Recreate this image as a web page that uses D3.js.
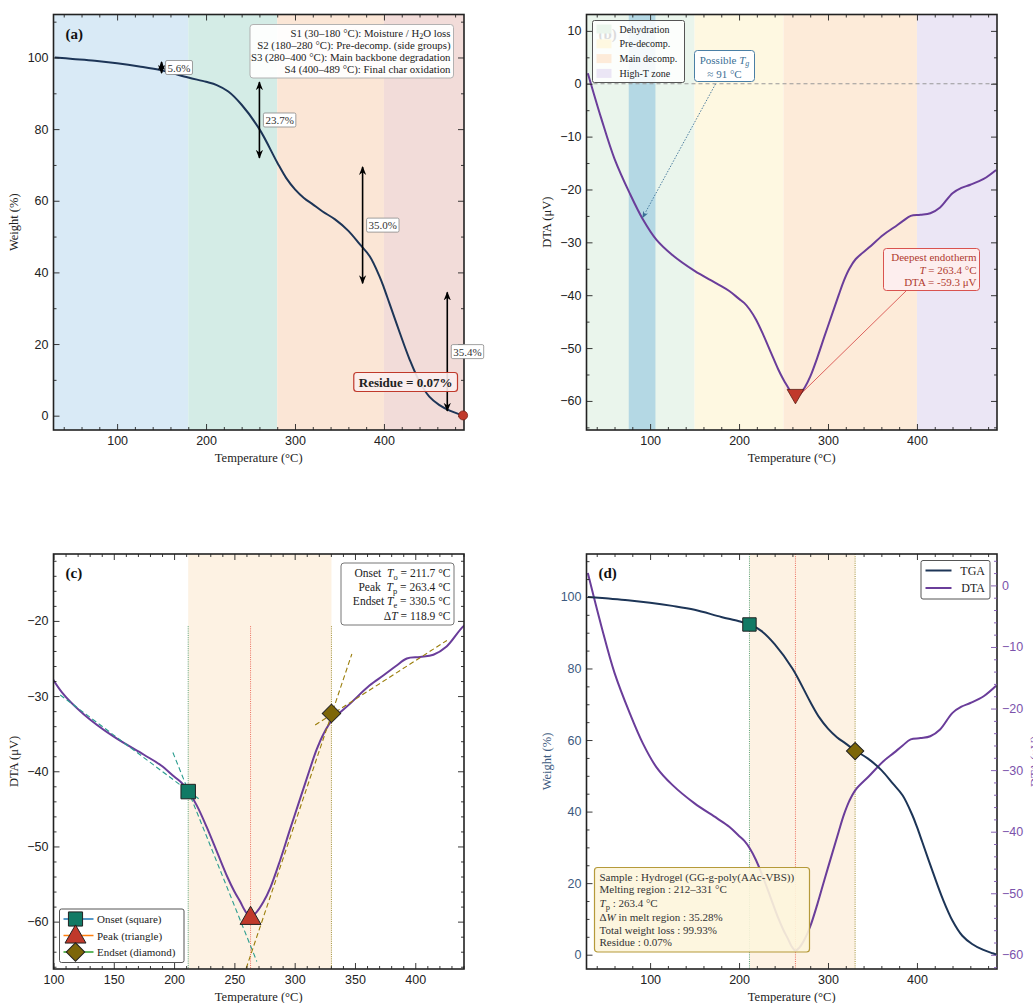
<!DOCTYPE html>
<html>
<head>
<meta charset="utf-8">
<script src="https://cdn.jsdelivr.net/npm/d3@7"></script>
<style>
  body { margin: 0; background: #fff; }
  svg { font-family: "Liberation Serif", "DejaVu Serif", serif; }
  .tick text { font-size: 12.5px; }
</style>
</head>
<body>
<div id="chart"></div>
<script>
// ---- data ----
var tgaTemp   = [30, 50, 75, 100, 125, 150, 180, 200, 212, 225, 240, 260, 280, 290, 300, 310, 320, 331, 345, 360, 373, 384, 395, 400, 406, 418, 429, 440, 451, 462, 474, 485, 489];
var tgaWeight = [100, 99.6, 99.1, 98.4, 97.5, 96.4, 94.4, 93.2, 92.3, 90.5, 86.8, 80.0, 70.7, 66.4, 63.2, 60.8, 59.0, 57.0, 54.8, 51.6, 47.8, 44.5, 38.9, 35.7, 31.5, 23.0, 15.6, 9.5, 5.3, 3.0, 1.4, 0.4, 0.07];

var dtaTemp   = [30, 45, 60, 77, 92, 107, 125, 150, 175, 189, 200, 206, 212, 219, 227, 236, 244, 250, 255, 259, 263.4, 268, 274, 280, 288, 296, 305, 312, 318, 324, 331, 346, 362, 374, 384, 393, 404, 415, 426, 440, 450, 460, 475, 489];
var dtaSignal = [2, -6.5, -14.2, -20.7, -25.7, -29.5, -32.4, -35.4, -37.8, -39.2, -40.7, -41.5, -42.7, -44.6, -47.4, -50.9, -54.0, -56.0, -57.4, -58.6, -59.3, -58.8, -57.4, -55.4, -51.8, -47.8, -43.4, -40.0, -37.2, -35.0, -33.2, -31.0, -28.6, -27.2, -26.0, -25.0, -24.8, -24.5, -23.4, -20.7, -19.7, -19.1, -18.0, -16.3];

var stageStart = [30, 180, 280, 400];
var stageEnd   = [180, 280, 400, 489];
var stageLoss  = ["5.6%", "23.7%", "35.0%", "35.4%"];
var stageText  = ["S1 (30\u2013180 \u00b0C): Moisture / H\u2082O loss",
                  "S2 (180\u2013280 \u00b0C): Pre-decomp. (side groups)",
                  "S3 (280\u2013400 \u00b0C): Main backbone degradation",
                  "S4 (400\u2013489 \u00b0C): Final char oxidation"];
var stageColors = ["#d9eaf6", "#d4ece6", "#fbe6d6", "#f2dcd9"];

var zoneNames  = ["Dehydration", "Pre-decomp.", "Main decomp.", "High-T zone"];
var zoneStart  = [30, 150, 250, 400];
var zoneEnd    = [150, 250, 400, 490];
var zoneColors = ["#eaf5ec", "#fef8e1", "#fdebd9", "#ebe6f5"];
var tgBand = [76, 106];
var tgValue = 91;

var onsetT = 211.7, peakT = 263.4, endsetT = 330.5;
var onsetDTA = -42.7, peakDTA = -59.3, endsetDTA = -32.3;
var onsetW = 92.3, endsetW = 56.9;
// tangent segments [T1, DTA1, T2, DTA2]
var onsetTangents  = [[105.6, -29.85, 221.6, -43.8], [199, -37.5, 268.6, -65.3]];
var endsetTangents = [[259.8, -66.2, 347.4, -24.4], [317, -33.85, 426.2, -22.6]];

var infoLines = ["Sample : Hydrogel (GG-g-poly(AAc-VBS))", "Melting region : 212\u2013331 \u00b0C", "Tp", "\u0394W", "Total weight loss : 99.93%", "Residue : 0.07%"];

var tgaColor = "#1d3557", dtaColor = "#6a3d9a";
var bandColor = "#fdf2e3";

var tga = tgaTemp.map(function(t, i) { return {t: t, v: tgaWeight[i]}; });
var dta = dtaTemp.map(function(t, i) { return {t: t, v: dtaSignal[i]}; });

var svg = d3.select("#chart").append("svg").attr("width", 1033).attr("height", 1003);
var defs = svg.append("defs");

function arrowMarker(id, color, size) {
  defs.append("marker").attr("id", id)
    .attr("viewBox", "0 0 10 10").attr("refX", 9).attr("refY", 5)
    .attr("markerWidth", size).attr("markerHeight", size)
    .attr("markerUnits", "userSpaceOnUse")
    .attr("orient", "auto-start-reverse")
    .append("path").attr("d", "M0,1 L10,5 L0,9 L3,5 Z").attr("fill", color);
}
arrowMarker("arrowK", "#000", 9);
arrowMarker("arrowB", "#3a6f96", 7);

function range(a, b, s) { var r = []; for (var v = a; v <= b + 1e-9; v += s) r.push(+v.toFixed(6)); return r; }

// build one panel: frame, inward ticks on all four sides
function panel(o) {
  var g = svg.append("g").attr("transform", "translate(" + o.left + "," + o.top + ")");
  var x = d3.scaleLinear().domain(o.xd).range([0, o.w]);
  var y = d3.scaleLinear().domain(o.yd).range([o.h, 0]);
  defs.append("clipPath").attr("id", "clip" + o.id).append("rect").attr("width", o.w).attr("height", o.h);
  var bg = g.append("g").attr("clip-path", "url(#clip" + o.id + ")");
  var plot = g.append("g").attr("clip-path", "url(#clip" + o.id + ")");
  var axes = g.append("g");
  return {g: g, x: x, y: y, bg: bg, plot: plot, axes: axes, o: o};
}

function finishAxes(p, ox, oy, yColor, yLabel, yLabelColor, right) {
  var o = p.o, a = p.axes, x = p.x, y = p.y;
  var xMinor = ox.minor.filter(function(v) { return ox.major.indexOf(v) < 0; });
  var yMinor = oy.minor.filter(function(v) { return oy.major.indexOf(v) < 0; });
  a.append("g").attr("transform", "translate(0," + o.h + ")")
    .call(d3.axisBottom(x).tickValues(ox.major).tickSize(-6).tickPadding(6).tickFormat(d3.format("d")));
  a.append("g").attr("transform", "translate(0," + o.h + ")")
    .call(d3.axisBottom(x).tickValues(xMinor).tickSize(-3).tickFormat(""));
  a.append("g").call(d3.axisTop(x).tickValues(ox.major).tickSize(-6).tickFormat(""));
  a.append("g").call(d3.axisTop(x).tickValues(xMinor).tickSize(-3).tickFormat(""));
  a.append("g").call(d3.axisLeft(y).tickValues(oy.major).tickSize(-6).tickPadding(5).tickFormat(function(d) { return d < 0 ? "\u2212" + (-d) : d; }))
    .call(function(s) { s.selectAll("text").attr("fill", yColor); });
  a.append("g").call(d3.axisLeft(y).tickValues(yMinor).tickSize(-3).tickFormat(""));
  if (!right) {
    a.append("g").attr("transform", "translate(" + o.w + ",0)").call(d3.axisRight(y).tickValues(oy.major).tickSize(-6).tickFormat(""));
    a.append("g").attr("transform", "translate(" + o.w + ",0)").call(d3.axisRight(y).tickValues(yMinor).tickSize(-3).tickFormat(""));
  }
  a.selectAll(".domain").remove();
  a.selectAll(".tick line").attr("stroke", "#222").attr("stroke-width", 0.9);
  a.selectAll(".tick text").attr("fill", function() { return d3.select(this).attr("fill") === "currentColor" ? "#222" : d3.select(this).attr("fill"); });
  a.append("rect").attr("width", o.w).attr("height", o.h).attr("fill", "none").attr("stroke", "#222").attr("stroke-width", 1.6);
  a.append("text").attr("x", o.w / 2).attr("y", o.h + 32).attr("text-anchor", "middle")
    .attr("font-size", 12.5).attr("fill", "#222").text("Temperature (\u00b0C)");
  a.append("text").attr("transform", "translate(" + (-36) + "," + (o.h / 2) + ") rotate(-90)")
    .attr("text-anchor", "middle").attr("font-size", 12.5).attr("fill", yLabelColor).text(yLabel);
}

function panelLabel(p, s) {
  p.axes.append("text").attr("x", 12).attr("y", 24).attr("font-size", 15).attr("font-weight", "bold").attr("fill", "#111").text(s);
}

var lineGen = function(x, y) {
  return d3.line().x(function(d) { return x(d.t); }).y(function(d) { return y(d.v); }).curve(d3.curveCatmullRom.alpha(0.5));
};

// =============== (a) TGA with stages ===============
var pa = panel({id: "a", left: 53.5, top: 14.5, w: 410.5, h: 415.5, xd: [28.5, 490], yd: [-4, 112]});
stageStart.forEach(function(s, i) {
  var x0 = i === 0 ? 28.5 : s, x1 = i === 3 ? 490 : stageEnd[i];
  pa.bg.append("rect").attr("x", pa.x(x0)).attr("width", pa.x(x1) - pa.x(x0))
    .attr("y", 0).attr("height", 415.5).attr("fill", stageColors[i]);
});
pa.plot.append("path").datum(tga).attr("d", lineGen(pa.x, pa.y)).attr("fill", "none")
  .attr("stroke", tgaColor).attr("stroke-width", 2);

function weightAt(t) {
  var i = d3.bisectLeft(tgaTemp, t);
  if (tgaTemp[i] === t) return tgaWeight[i];
  var f = (t - tgaTemp[i - 1]) / (tgaTemp[i] - tgaTemp[i - 1]);
  return tgaWeight[i - 1] + f * (tgaWeight[i] - tgaWeight[i - 1]);
}
stageStart.forEach(function(s, i) {
  var e = stageEnd[i];
  var xa = s + 0.8 * (e - s);
  var w0 = weightAt(s), w1 = weightAt(e);
  var shrink = 4.5;
  pa.g.append("line").attr("x1", pa.x(xa)).attr("x2", pa.x(xa))
    .attr("y1", pa.y(w0) + shrink).attr("y2", pa.y(w1) - shrink)
    .attr("stroke", "#000").attr("stroke-width", 1.6)
    .attr("marker-start", "url(#arrowK)").attr("marker-end", "url(#arrowK)");
  var lbl = pa.g.append("g").attr("transform", "translate(" + (pa.x(xa) + 3) + "," + pa.y((w0 + w1) / 2) + ")");
  var t = lbl.append("text").attr("x", 3).attr("y", 4).attr("font-size", 11).attr("fill", "#333").text(stageLoss[i]);
  var bb = t.node().getBBox();
  lbl.insert("rect", "text").attr("x", bb.x - 2).attr("y", bb.y - 1).attr("width", bb.width + 4).attr("height", bb.height + 2)
    .attr("rx", 1.5).attr("fill", "#fff").attr("stroke", "#888").attr("stroke-width", 0.8);
});
// residue
pa.g.append("circle").attr("cx", pa.x(489)).attr("cy", pa.y(0.07)).attr("r", 4.5).attr("fill", "#c0392b").attr("stroke", "#7a1f15").attr("stroke-width", 0.8);
(function() {
  var t = pa.g.append("text").attr("x", 399).attr("y", 372).attr("text-anchor", "end")
    .attr("font-size", 13).attr("font-weight", "bold").attr("fill", "#222").text("Residue = 0.07%");
  var bb = t.node().getBBox();
  pa.g.insert("rect", function() { return t.node(); }).attr("x", bb.x - 5).attr("y", bb.y - 2).attr("width", bb.width + 10).attr("height", bb.height + 4)
    .attr("rx", 3).attr("fill", "#fbeeee").attr("fill-opacity", 0.9).attr("stroke", "#c0392b").attr("stroke-width", 1.2);
})();
// stage description box
(function() {
  var box = pa.g.append("g");
  var rect = box.append("rect");
  stageText.forEach(function(s, i) {
    var t = box.append("text").attr("x", 397).attr("y", 22 + i * 12.3).attr("text-anchor", "end")
      .attr("font-size", 10.8).attr("fill", "#222");
    if (i === 0) {
      t.append("tspan").text("S1 (30\u2013180 \u00b0C): Moisture / H");
      t.append("tspan").attr("font-size", 8).attr("dy", 2).text("2");
      t.append("tspan").attr("dy", -2).text("O loss");
    } else t.text(s);
  });
  rect.attr("x", 196.5).attr("y", 10).attr("width", 203.5).attr("height", 53.5).attr("rx", 3)
    .attr("fill", "#fff").attr("fill-opacity", 0.92).attr("stroke", "#aaa").attr("stroke-width", 0.9);
})();
panelLabel(pa, "(a)");
finishAxes(pa, {major: [100, 200, 300, 400], minor: range(40, 480, 20)},
  {major: [0, 20, 40, 60, 80, 100], minor: range(0, 110, 10)}, "#222", "Weight (%)", "#222");

// =============== (b) DTA zones ===============
var pb = panel({id: "b", left: 586.5, top: 14.5, w: 410.5, h: 415.5, xd: [28.5, 490], yd: [-65.5, 13.1]});
zoneStart.forEach(function(s, i) {
  var x0 = i === 0 ? 28.5 : s;
  pb.bg.append("rect").attr("x", pb.x(x0)).attr("width", pb.x(zoneEnd[i]) - pb.x(x0))
    .attr("y", 0).attr("height", 415.5).attr("fill", zoneColors[i]);
});
pb.bg.append("rect").attr("x", pb.x(tgBand[0])).attr("width", pb.x(tgBand[1]) - pb.x(tgBand[0]))
  .attr("y", 0).attr("height", 415.5).attr("fill", "#b4d8e4");
pb.bg.append("line").attr("x1", 0).attr("x2", 410.5).attr("y1", pb.y(0)).attr("y2", pb.y(0))
  .attr("stroke", "#999").attr("stroke-width", 1).attr("stroke-dasharray", "4,3");
pb.plot.append("path").datum(dta).attr("d", lineGen(pb.x, pb.y)).attr("fill", "none")
  .attr("stroke", dtaColor).attr("stroke-width", 2);
panelLabel(pb, "(b)");
// legend
(function() {
  var lg = pb.g.append("g").attr("transform", "translate(6,6)");
  lg.append("rect").attr("width", 92).attr("height", 62).attr("rx", 2).attr("fill", "#fff").attr("fill-opacity", 0.85)
    .attr("stroke", "#555").attr("stroke-width", 1);
  zoneNames.forEach(function(n, i) {
    lg.append("rect").attr("x", 4).attr("y", 4 + i * 14.8).attr("width", 15).attr("height", 9).attr("fill", zoneColors[i]);
    lg.append("text").attr("x", 27).attr("y", 12 + i * 14.8).attr("font-size", 10).attr("fill", "#222").text(n);
  });
})();
// Tg annotation
(function() {
  var bx = 108, by = 36;
  var tx = pb.x(tgValue - 0.5), ty = pb.y(-25.7);
  pb.g.append("line").attr("x1", 129).attr("y1", 69.5).attr("x2", tx + 1).attr("y2", ty - 2)
    .attr("stroke", "#3a6f96").attr("stroke-width", 0.9).attr("stroke-dasharray", "1.5,1.5")
    .attr("marker-end", "url(#arrowB)");
  pb.g.append("rect").attr("x", bx).attr("y", by).attr("width", 60).attr("height", 31).attr("rx", 3)
    .attr("fill", "#fff").attr("stroke", "#4a7fa5").attr("stroke-width", 1);
  var t1 = pb.g.append("text").attr("x", bx + 30).attr("y", by + 13).attr("text-anchor", "middle").attr("font-size", 11).attr("fill", "#3a6f96");
  t1.append("tspan").text("Possible ");
  t1.append("tspan").attr("font-style", "italic").text("T");
  t1.append("tspan").attr("font-style", "italic").attr("font-size", 8).attr("dy", 2.5).text("g");
  pb.g.append("text").attr("x", bx + 30).attr("y", by + 27).attr("text-anchor", "middle").attr("font-size", 11).attr("fill", "#3a6f96").text("\u2248 91 \u00b0C");
})();
// deepest endotherm
(function() {
  var mx = pb.x(peakT), my = pb.y(peakDTA);
  pb.g.append("line").attr("x1", mx + 5).attr("y1", my - 3).attr("x2", 320).attr("y2", 276)
    .attr("stroke", "#d9534f").attr("stroke-width", 0.9);
  pb.g.append("path").attr("d", d3.symbol().type(d3.symbolTriangle).size(120)).attr("transform", "translate(" + mx + "," + (my - 3) + ") rotate(180)")
    .attr("fill", "#c0392b").attr("stroke", "#5a1a12").attr("stroke-width", 0.8);
  pb.g.append("rect").attr("x", 297).attr("y", 234).attr("width", 96).attr("height", 42).attr("rx", 3)
    .attr("fill", "#fdeeee").attr("stroke", "#d9534f").attr("stroke-width", 1);
  pb.g.append("text").attr("x", 390).attr("y", 246.5).attr("text-anchor", "end").attr("font-size", 11).attr("fill", "#b03a2e").text("Deepest endotherm");
  var t2 = pb.g.append("text").attr("x", 390).attr("y", 259).attr("text-anchor", "end").attr("font-size", 11).attr("fill", "#b03a2e");
  t2.append("tspan").attr("font-style", "italic").text("T");
  t2.append("tspan").text(" = 263.4 \u00b0C");
  pb.g.append("text").attr("x", 390).attr("y", 271.5).attr("text-anchor", "end").attr("font-size", 11).attr("fill", "#b03a2e").text("DTA = -59.3 \u03bcV");
})();
finishAxes(pb, {major: [100, 200, 300, 400], minor: range(40, 480, 20)},
  {major: range(-60, 10, 10), minor: range(-65, 10, 5)}, "#222", "DTA (\u03bcV)", "#222");

// =============== (c) onset / peak / endset ===============
var pc = panel({id: "c", left: 53.5, top: 554, w: 410.5, h: 415, xd: [100, 440.4], yd: [-66.3, -11.1]});
pc.bg.append("rect").attr("x", pc.x(onsetT)).attr("width", pc.x(endsetT) - pc.x(onsetT))
  .attr("y", 0).attr("height", 415).attr("fill", bandColor);
[[onsetT, "#2e8b57"], [peakT, "#e74c3c"], [endsetT, "#8a7a10"]].forEach(function(v) {
  pc.bg.append("line").attr("x1", pc.x(v[0])).attr("x2", pc.x(v[0])).attr("y1", pc.y(-20.7)).attr("y2", 415)
    .attr("stroke", v[1]).attr("stroke-width", 0.8).attr("stroke-dasharray", "1,1.2");
});
pc.plot.append("path").datum(dta).attr("d", lineGen(pc.x, pc.y)).attr("fill", "none")
  .attr("stroke", dtaColor).attr("stroke-width", 2);
function tangents(list, color) {
  list.forEach(function(s) {
    pc.plot.append("line").attr("x1", pc.x(s[0])).attr("y1", pc.y(s[1])).attr("x2", pc.x(s[2])).attr("y2", pc.y(s[3]))
      .attr("stroke", color).attr("stroke-width", 1.1).attr("stroke-dasharray", "5,3");
  });
}
tangents(onsetTangents, "#2a9d8f");
tangents(endsetTangents, "#9a7d0a");

function markerShape(g, type, cx, cy, size, fill, rot) {
  g.append("path").attr("d", d3.symbol().type(type).size(size))
    .attr("transform", "translate(" + cx + "," + cy + ")" + (rot ? " rotate(" + rot + ")" : ""))
    .attr("fill", fill).attr("stroke", "#222").attr("stroke-width", 1);
}
markerShape(pc.g, d3.symbolSquare, pc.x(onsetT), pc.y(onsetDTA), 210, "#117a65");
markerShape(pc.g, d3.symbolTriangle, pc.x(peakT), pc.y(peakDTA) + 2, 190, "#c0392b");
markerShape(pc.g, d3.symbolSquare, pc.x(endsetT), pc.y(endsetDTA), 170, "#7d6608", 45);
panelLabel(pc, "(c)");
// stats box
(function() {
  var bx = 287.5, by = 9;
  pc.g.append("rect").attr("x", bx).attr("y", by).attr("width", 113).attr("height", 62).attr("rx", 3)
    .attr("fill", "#fff").attr("stroke", "#777").attr("stroke-width", 1);
  var rows = [["Onset  ", "T", "o", " = 211.7 \u00b0C"], ["Peak  ", "T", "p", " = 263.4 \u00b0C"],
              ["Endset ", "T", "e", " = 330.5 \u00b0C"], ["\u0394", "T", "", " = 118.9 \u00b0C"]];
  rows.forEach(function(r, i) {
    var t = pc.g.append("text").attr("x", 397).attr("y", by + 14 + i * 14.2).attr("text-anchor", "end")
      .attr("font-size", 11.5).attr("fill", "#222").attr("xml:space", "preserve");
    t.append("tspan").text(r[0]);
    t.append("tspan").attr("font-style", "italic").text(r[1]);
    if (r[2]) {
      t.append("tspan").attr("font-size", 8.5).attr("dy", 3).text(r[2]);
      t.append("tspan").attr("dy", -3).text(r[3]);
    } else t.append("tspan").text(r[3]);
  });
})();
// legend
(function() {
  var lg = pc.g.append("g").attr("transform", "translate(6,355)");
  lg.append("rect").attr("width", 124.5).attr("height", 53.5).attr("rx", 2).attr("fill", "#fff").attr("fill-opacity", 0.85)
    .attr("stroke", "#555").attr("stroke-width", 1);
  var items = [["Onset (square)", "#1f77b4", d3.symbolSquare, "#117a65", 0, 200],
               ["Peak (triangle)", "#ff7f0e", d3.symbolTriangle, "#c0392b", 0, 190],
               ["Endset (diamond)", "#2ca02c", d3.symbolSquare, "#7d6608", 45, 170]];
  items.forEach(function(it, i) {
    var yy = 10 + i * 16.5;
    lg.append("line").attr("x1", 4).attr("x2", 34).attr("y1", yy).attr("y2", yy).attr("stroke", it[1]).attr("stroke-width", 1.5);
    markerShape(lg, it[2], 16, yy + (i === 1 ? 1.5 : 0), it[5], it[3], it[4]);
    lg.append("text").attr("x", 37.5).attr("y", yy + 4).attr("font-size", 11).attr("fill", "#222").text(it[0]);
  });
})();
finishAxes(pc, {major: range(100, 400, 50), minor: range(100, 440, 10)},
  {major: range(-60, -20, 10), minor: range(-66, -12, 2)}, "#222", "DTA (\u03bcV)", "#222");

// =============== (d) overlay ===============
var pd = panel({id: "d", left: 586.5, top: 554, w: 410.5, h: 415, xd: [28.5, 490], yd: [-4, 112]});
var yR = d3.scaleLinear().domain([-62.3, 5.1]).range([415, 0]);
pd.bg.append("rect").attr("x", pd.x(onsetT)).attr("width", pd.x(endsetT) - pd.x(onsetT))
  .attr("y", 0).attr("height", 415).attr("fill", bandColor);
[[onsetT, "#2e8b57"], [peakT, "#e74c3c"], [endsetT, "#8a7a10"]].forEach(function(v) {
  pd.bg.append("line").attr("x1", pd.x(v[0])).attr("x2", pd.x(v[0])).attr("y1", 0).attr("y2", 415)
    .attr("stroke", v[1]).attr("stroke-width", 0.8).attr("stroke-dasharray", "1,1.2");
});
pd.plot.append("path").datum(dta).attr("d", lineGen(pd.x, yR)).attr("fill", "none")
  .attr("stroke", dtaColor).attr("stroke-width", 2);
pd.plot.append("path").datum(tga).attr("d", lineGen(pd.x, pd.y)).attr("fill", "none")
  .attr("stroke", tgaColor).attr("stroke-width", 2);
markerShape(pd.g, d3.symbolSquare, pd.x(onsetT), pd.y(onsetW), 180, "#117a65");
markerShape(pd.g, d3.symbolSquare, pd.x(endsetT), pd.y(endsetW), 150, "#7d6608", 45);
panelLabel(pd, "(d)");
// info box
(function() {
  var bx = 8, by = 313.5;
  pd.g.append("rect").attr("x", bx).attr("y", by).attr("width", 215).attr("height", 84.5).attr("rx", 3)
    .attr("fill", "#fdf5dc").attr("fill-opacity", 0.9).attr("stroke", "#b59a3a").attr("stroke-width", 1.2);
  var lh = [0, 12.3, 25.5, 39.5, 52.5, 65];
  infoLines.forEach(function(s, i) {
    var t = pd.g.append("text").attr("x", bx + 5).attr("y", by + 13.5 + lh[i]).attr("font-size", 11).attr("fill", "#333");
    if (s === "Tp") {
      t.append("tspan").attr("font-style", "italic").text("T");
      t.append("tspan").attr("font-size", 8.5).attr("dy", 3).text("p");
      t.append("tspan").attr("dy", -3).text(" : 263.4 \u00b0C");
    } else if (s === "\u0394W") {
      t.append("tspan").text("\u0394");
      t.append("tspan").attr("font-style", "italic").text("W");
      t.append("tspan").text(" in melt region : 35.28%");
    } else t.text(s);
  });
})();
// legend
(function() {
  var lg = pd.g.append("g").attr("transform", "translate(334.5,6.5)");
  lg.append("rect").attr("width", 69).attr("height", 38.5).attr("rx", 2).attr("fill", "#fff").attr("fill-opacity", 0.85)
    .attr("stroke", "#555").attr("stroke-width", 1);
  [["TGA", tgaColor], ["DTA", dtaColor]].forEach(function(it, i) {
    var yy = 10 + i * 17.5;
    lg.append("line").attr("x1", 4.5).attr("x2", 30.5).attr("y1", yy).attr("y2", yy).attr("stroke", it[1]).attr("stroke-width", 2);
    lg.append("text").attr("x", 64).attr("y", yy + 4).attr("text-anchor", "end").attr("font-size", 12).attr("fill", "#222").text(it[0]);
  });
})();
finishAxes(pd, {major: [100, 200, 300, 400], minor: range(40, 480, 20)},
  {major: range(0, 100, 20), minor: range(0, 110, 5)}, "#3d5a80", "Weight (%)", "#3d5a80", true);
(function() {
  var a = pd.axes.append("g").attr("transform", "translate(410.5,0)");
  a.call(d3.axisRight(yR).tickValues(range(-60, 0, 10)).tickSize(-6).tickPadding(5)
    .tickFormat(function(d) { return d < 0 ? "\u2212" + (-d) : d; }));
  var b = pd.axes.append("g").attr("transform", "translate(410.5,0)");
  b.call(d3.axisRight(yR).tickValues(range(-62, 4, 2).filter(function(v) { return v % 10 !== 0; })).tickSize(-3).tickFormat(""));
  [a, b].forEach(function(s) {
    s.select(".domain").remove();
    s.selectAll(".tick line").attr("stroke", "#7b52ab").attr("stroke-width", 0.9);
    s.selectAll(".tick text").attr("fill", "#7b52ab");
  });
  pd.axes.append("text").attr("transform", "translate(452,207.5) rotate(-90)").attr("text-anchor", "middle")
    .attr("font-size", 12.5).attr("fill", "#7b52ab").text("DTA (\u03bcV)");
})();
</script>
</body>
</html>
